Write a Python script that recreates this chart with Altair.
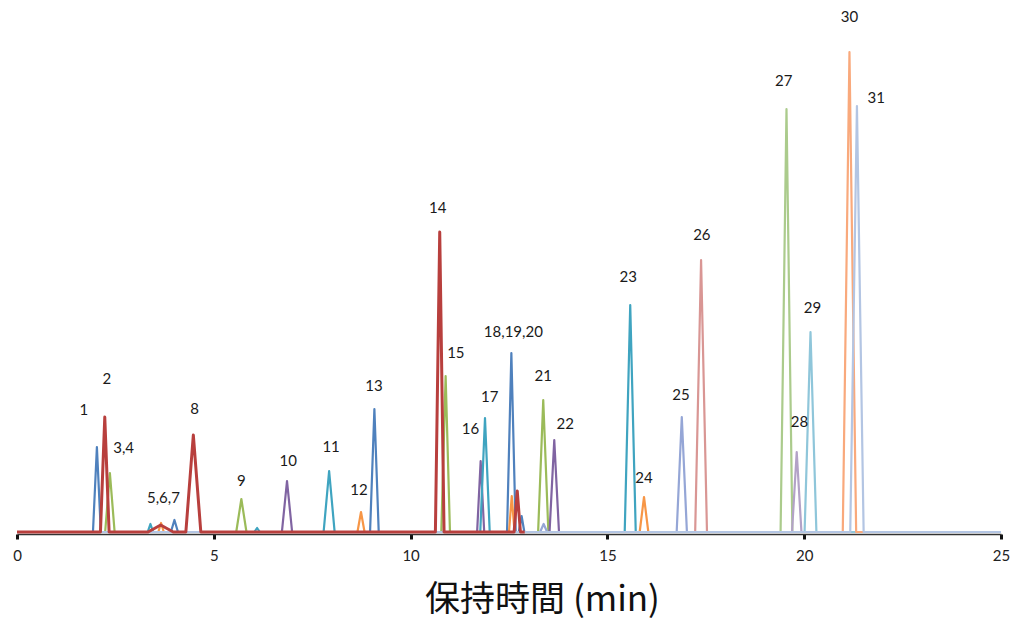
import altair as alt
import pandas as pd

# ---- traces (one per detector colour group) ----
series_names = ["blue", "green", "purple", "teal", "orange", "lavender", "pink",
                "lightgreen", "lightpurple", "lightteal", "lightorange", "lightblue", "red"]
series_colors = ["#4F81BD", "#9BBB59", "#8064A2", "#3FA4C0", "#F79646", "#95A6D6", "#D99694",
                 "#ABCB8C", "#B3A2C7", "#8FC6DA", "#F9A97C", "#B3C5E3", "#B83F3D"]
series_end = [25, 25, 25, 25, 25, 25, 25, 25, 25, 25, 25, 25, 12.9]

# ---- peaks: trace, retention time (min), height (a.u.), half base width (min) ----
peak_series = ["blue", "red", "green", "teal", "red", "orange", "blue", "red", "green", "teal",
               "purple", "teal", "orange", "blue", "red", "green", "purple", "teal",
               "blue", "orange", "red", "blue", "green", "lavender", "purple",
               "teal", "orange", "lavender", "pink", "lightgreen", "lightpurple",
               "lightteal", "lightorange", "lightblue"]
peak_time = [2.03, 2.23, 2.36, 3.39, 3.65, 3.66, 4.00, 4.48, 5.70, 6.10,
             6.86, 7.93, 8.74, 9.08, 10.74, 10.89, 11.78, 11.89,
             12.56, 12.57, 12.71, 12.82, 13.37, 13.38, 13.65,
             15.58, 15.93, 16.89, 17.38, 19.55, 19.81,
             20.16, 21.15, 21.34]
peak_height = [85, 115, 59, 8, 7, 9, 12, 97, 33, 4,
               51, 61, 20, 123, 300, 156, 71, 114,
               179, 36, 41, 16, 132, 8, 92,
               227, 35, 115, 272, 423, 80,
               200, 480, 426]
peak_halfwidth = [0.10, 0.11, 0.12, 0.07, 0.32, 0.07, 0.09, 0.19, 0.13, 0.07,
                  0.13, 0.14, 0.09, 0.11, 0.11, 0.11, 0.09, 0.12,
                  0.11, 0.07, 0.08, 0.07, 0.13, 0.09, 0.12,
                  0.14, 0.11, 0.13, 0.15, 0.15, 0.12,
                  0.15, 0.17, 0.17]

# ---- peak labels ----
label_text = ["1", "2", "3,4", "5,6,7", "8", "9", "10", "11", "12", "13", "14", "15", "16",
              "17", "18,19,20", "21", "22", "23", "24", "25", "26", "27", "28", "29", "30", "31"]
label_time = [1.70, 2.28, 2.71, 3.72, 4.51, 5.70, 6.89, 7.98, 8.69, 9.07, 10.69, 11.15, 11.52,
              12.01, 12.61, 13.37, 13.93, 15.53, 15.93, 16.87, 17.40, 19.48, 19.88, 20.21,
              21.15, 21.83]
label_height = [122, 153, 84, 34, 123, 51, 71, 85, 42, 146, 324, 179, 103,
                135, 200, 156, 108, 255, 54, 137, 297, 451, 110, 224, 515, 434]

tick_values = [0, 5, 10, 15, 20, 25]

rows = []
for s, end in zip(series_names, series_end):
    pts = [(0.0, 0.0)]
    pk = sorted([(t, h, w) for ps, t, h, w in zip(peak_series, peak_time, peak_height, peak_halfwidth) if ps == s])
    for t, h, w in pk:
        pts += [(t - w, 0.0), (t, float(h)), (t + w, 0.0)]
    pts.append((float(end), 0.0))
    for i, (t, v) in enumerate(pts):
        rows.append({"series": s, "t": t, "v": v, "i": i})
df = pd.DataFrame(rows)

labels = pd.DataFrame({"text": label_text, "t": label_time, "v": label_height})

xscale = alt.Scale(domain=[0, 25], nice=False, zero=False)
yscale = alt.Scale(domain=[-2, 524], nice=False, zero=False)
xaxis = alt.Axis(values=tick_values, title="保持時間 (min)", grid=False,
                 domainColor="#333333", domainWidth=1.5, tickColor="#111111",
                 tickWidth=3, tickSize=5, labelFont="Lato", labelFontSize=15,
                 labelColor="#222222", labelPadding=9, labelFlush=False,
                 titleFont="Noto Sans CJK JP", titleFontSize=35, titleFontWeight="normal",
                 titleColor="#111111", titlePadding=19, titleX=525, titleAlign="center")

layers = []
for s, c in zip(series_names, series_colors):
    sw = 3 if s == "red" else 2.2
    layers.append(
        alt.Chart(df[df.series == s]).mark_line(color=c, strokeWidth=sw, strokeJoin="round",
                                                 interpolate="linear").encode(
            x=alt.X("t:Q", scale=xscale, axis=xaxis),
            y=alt.Y("v:Q", scale=yscale, axis=None),
            order="i:Q",
        )
    )

text = alt.Chart(labels).mark_text(font="Lato", fontSize=15, color="#1a1a1a").encode(
    x=alt.X("t:Q", scale=xscale, axis=xaxis),
    y=alt.Y("v:Q", scale=yscale, axis=None),
    text="text:N",
)

chart = alt.layer(*layers, text).properties(
    width=984, height=526,
    padding={"left": 9, "top": 0, "right": 9, "bottom": 85},
    autosize=alt.AutoSizeParams(type="none"),
    background="white",
).configure_view(strokeWidth=0, stroke=None)

chart.save("out.html", embed_options={"renderer": "svg", "actions": False})
